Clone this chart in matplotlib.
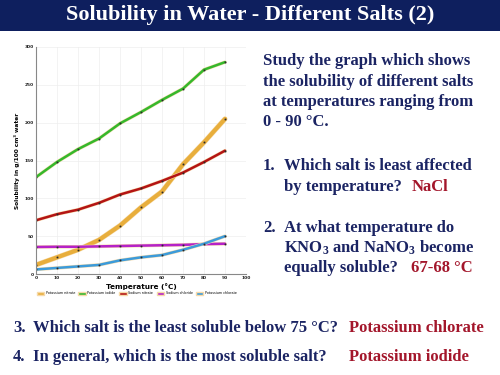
import matplotlib
matplotlib.use("Agg")
import matplotlib.pyplot as plt
import matplotlib.patheffects as pe
from matplotlib.patches import Patch

# ---- data ----
temps = [0, 10, 20, 30, 40, 50, 60, 70, 80, 90]
potassium_nitrate = [12, 22, 32, 45, 64, 88, 109, 145, 174, 205]
potassium_iodide = [128, 148, 165, 179, 199, 214, 230, 245, 270, 280]
sodium_nitrate = [71, 79, 85, 94, 105, 113, 123, 134, 148, 163]
sodium_chloride = [35.7, 36, 36, 36.5, 37, 37.5, 38, 38.5, 39.5, 40]
potassium_chlorate = [6, 8, 10, 12, 18, 22, 25, 32, 40, 50]

series = [
    ("Potassium nitrate", potassium_nitrate, "#E8AE3C", 3.0),
    ("Potassium iodide", potassium_iodide, "#35B82C", 1.8),
    ("Sodium nitrate", sodium_nitrate, "#B41414", 1.8),
    ("Sodium chloride", sodium_chloride, "#B522C8", 1.8),
    ("Potassium chlorate", potassium_chlorate, "#3C9BDA", 1.8),
]

NAVY = "#1B2463"
RED = "#A3162B"
SERIF = "Liberation Serif"

plt.rcParams["mathtext.fontset"] = "custom"
plt.rcParams["mathtext.rm"] = "Liberation Serif:bold"
plt.rcParams["mathtext.it"] = "Liberation Serif:bold"
plt.rcParams["mathtext.bf"] = "Liberation Serif:bold"

fig = plt.figure(figsize=(5, 3.75), dpi=100)
fig.patch.set_facecolor("white")

# title banner
fig.patches.append(plt.Rectangle((0, 1 - 31 / 375), 1, 31 / 375, transform=fig.transFigure,
                                 facecolor="#0E1F5E", edgecolor="none", zorder=0))
fig.text(0.5, 1 - 15 / 375, "Solubility in Water - Different Salts (2)", ha="center", va="center",
         color="white", fontsize=16, fontweight="bold", family=SERIF)

# chart
ax = fig.add_axes([36 / 500, 1 - 274 / 375, 210 / 500, 227 / 375])
for name, vals, color, lw in series:
    ax.plot(temps, vals, color=color, linewidth=lw, solid_capstyle="round",
            path_effects=[pe.Stroke(linewidth=lw + 0.7, foreground="#F7DDB0"), pe.Normal()],
            label=name)
    ax.plot(temps, vals, linestyle="none", marker="s", markersize=0.9,
            markerfacecolor="#2A2A2A", markeredgecolor="#2A2A2A", markeredgewidth=0.3)

ax.set_xlim(0, 100)
ax.set_ylim(0, 300)
ax.set_xticks(range(0, 101, 10))
ax.set_yticks(range(0, 301, 50))
ax.grid(color="#EEEEEE", linewidth=0.5)
ax.set_axisbelow(True)
for side in ("top", "right"):
    ax.spines[side].set_visible(False)
for side in ("left", "bottom"):
    ax.spines[side].set_color("#888888")
    ax.spines[side].set_linewidth(0.8)
ax.tick_params(labelsize=3.2, length=0, pad=1.5, labelcolor="#222222")
for lab in ax.get_xticklabels() + ax.get_yticklabels():
    lab.set_fontweight("bold")
ax.set_xlabel("Temperature (°C)", fontsize=5.2, fontweight="bold", labelpad=2)
ax.set_ylabel("Solubility in g/100 cm³ water", fontsize=4.2, fontweight="bold", labelpad=3)

handles = [Patch(facecolor=c, edgecolor="#F6D9A8", label=n) for n, _, c, _ in series]
ax.legend(handles=handles, loc="center", bbox_to_anchor=(0.48, -0.085), ncol=5,
          fontsize=2.4, frameon=False, handlelength=2.2, handleheight=0.9,
          columnspacing=1.0, handletextpad=0.5)

# right-hand text
fs = 12
def txt(x, y, s, color=NAVY):
    fig.text(x / 500, 1 - y / 375, s, ha="left", va="center", color=color,
             fontsize=fs, fontweight="bold", family=SERIF)

txt(263, 61, "Study the graph which shows")
txt(263, 82, "the solubility of different salts")
txt(263, 102, "at temperatures ranging from")
txt(263, 122, "0 - 90 °C.")

txt(263, 166, "1.")
txt(284, 166, "Which salt is least affected")
txt(284, 187, "by temperature?")
txt(412, 187, "NaCl", RED)

txt(263, 228, "2.")
txt(284, 228, "At what temperature do")
txt(284, 248, "KNO$_3$ and NaNO$_3$ become")
txt(284, 268, "equally soluble?")
txt(411, 268, "67-68 °C", RED)

txt(13, 328, "3.")
txt(33, 328, "Which salt is the least soluble below 75 °C?")
txt(349, 328, "Potassium chlorate", RED)
txt(13, 357, "4.")
txt(33, 357, "In general, which is the most soluble salt?")
txt(349, 357, "Potassium iodide", RED)

fig.savefig("out.png", dpi=100)
